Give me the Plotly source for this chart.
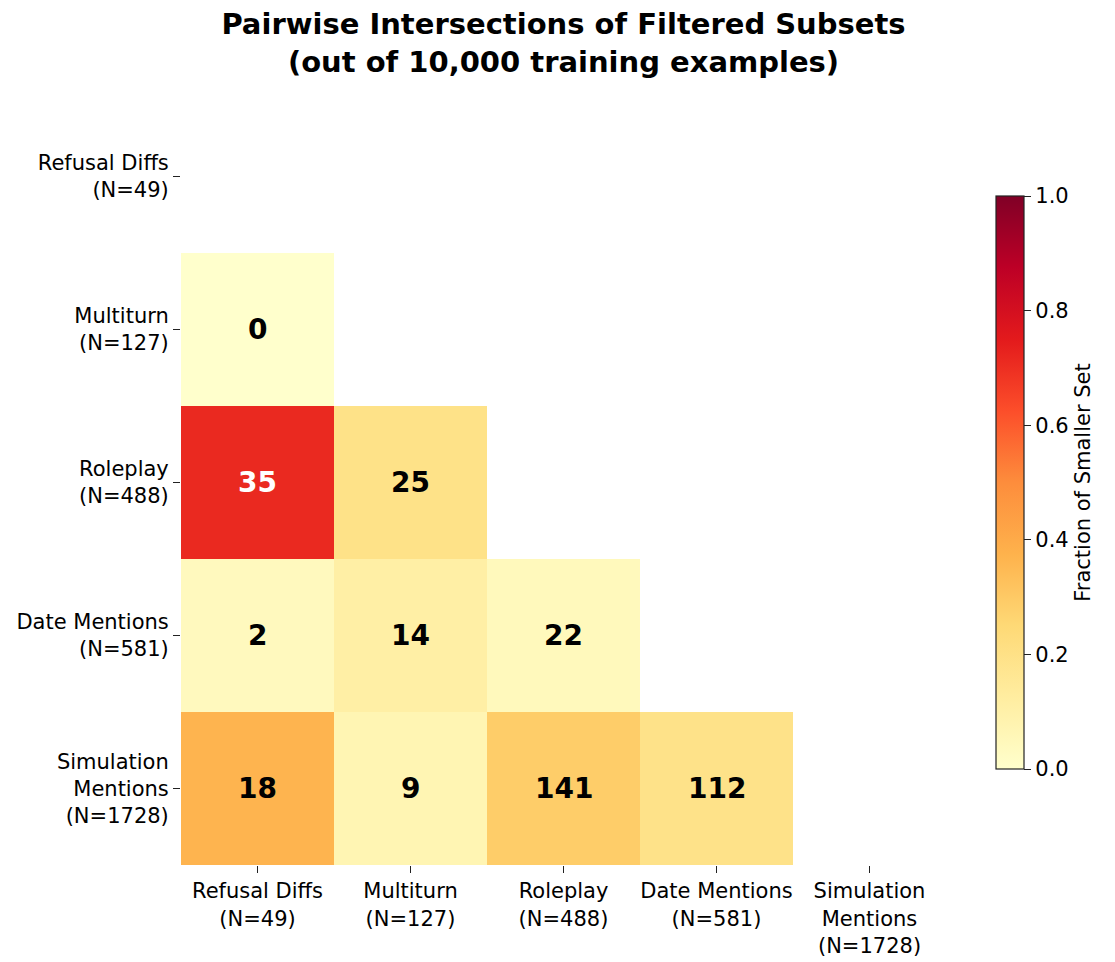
import plotly.graph_objects as go

# subset names and sizes
names = ["Refusal Diffs", "Multiturn", "Roleplay", "Date Mentions", "Simulation<br>Mentions"]
sizes = [49, 127, 488, 581, 1728]

# pairwise intersection counts (lower triangle only, None = masked)
counts = [
    [None, None, None, None, None],
    [0, None, None, None, None],
    [35, 25, None, None, None],
    [2, 14, 22, None, None],
    [18, 9, 141, 112, None],
]

tick_text = [f"{n}<br>(N={s})" for n, s in zip(names, sizes)]
idx = list(range(len(names)))

# fraction of the smaller set
frac = []
for i, row in enumerate(counts):
    frac.append([None if c is None else c / min(sizes[i], sizes[j]) for j, c in enumerate(row)])

ylorrd = ["#ffffcc", "#ffeda0", "#fed976", "#feb24c", "#fd8d3c",
          "#fc4e2a", "#e31a1c", "#bd0026", "#800026"]
cscale = [[k / (len(ylorrd) - 1), c] for k, c in enumerate(ylorrd)]

# page body adds an 8px offset, so the figure is sized to fit the window
W, H = 1107, 954

fig = go.Figure(go.Heatmap(
    x=idx, y=idx, z=frac,
    colorscale=cscale, zmin=0, zmax=1,
    hoverongaps=False,
    colorbar=dict(
        x=(996 - 181) / 765, xanchor="left", xpad=0,
        y=0.5, yanchor="middle", ypad=0,
        len=573 / 765, lenmode="fraction",
        thickness=28,
        outlinewidth=1.2, outlinecolor="#222",
        ticks="outside", ticklen=7, tickcolor="#222",
        tickvals=[0, 0.2, 0.4, 0.6, 0.8, 1.0], tickformat=".1f",
        tickfont=dict(size=21, color="black"),
        title=dict(text="Fraction of Smaller Set", side="right",
                   font=dict(size=21, color="black")),
    ),
))

# cell labels
for i, row in enumerate(counts):
    for j, c in enumerate(row):
        if c is None:
            continue
        fig.add_annotation(
            x=j, y=i, text=f"<b>{c}</b>", showarrow=False,
            font=dict(size=28, color="white" if frac[i][j] > 0.6 else "black"),
        )

fig.update_layout(
    width=W, height=H,
    margin=dict(l=173, r=169, t=92, b=97, autoexpand=False),
    plot_bgcolor="white", paper_bgcolor="white",
    font=dict(family="DejaVu Sans", color="black"),
    title=dict(
        text="<b>Pairwise Intersections of Filtered Subsets<br>(out of 10,000 training examples)</b>",
        x=0.5, xref="paper", xanchor="center",
        y=1 - 26 / H, yref="container", yanchor="middle",
        font=dict(size=29, color="black"),
    ),
)

fig.update_xaxes(
    range=[-0.5, 4.5], tickvals=idx, ticktext=tick_text,
    ticks="outside", ticklen=7, tickcolor="#222",
    tickfont=dict(size=21), showgrid=False, zeroline=False, showline=False,
)
fig.update_yaxes(
    range=[4.5, -0.5], tickvals=idx, ticktext=tick_text,
    ticks="outside", ticklen=7, tickcolor="#222",
    tickfont=dict(size=21), showgrid=False, zeroline=False, showline=False,
)

fig.write_html("out.html")
